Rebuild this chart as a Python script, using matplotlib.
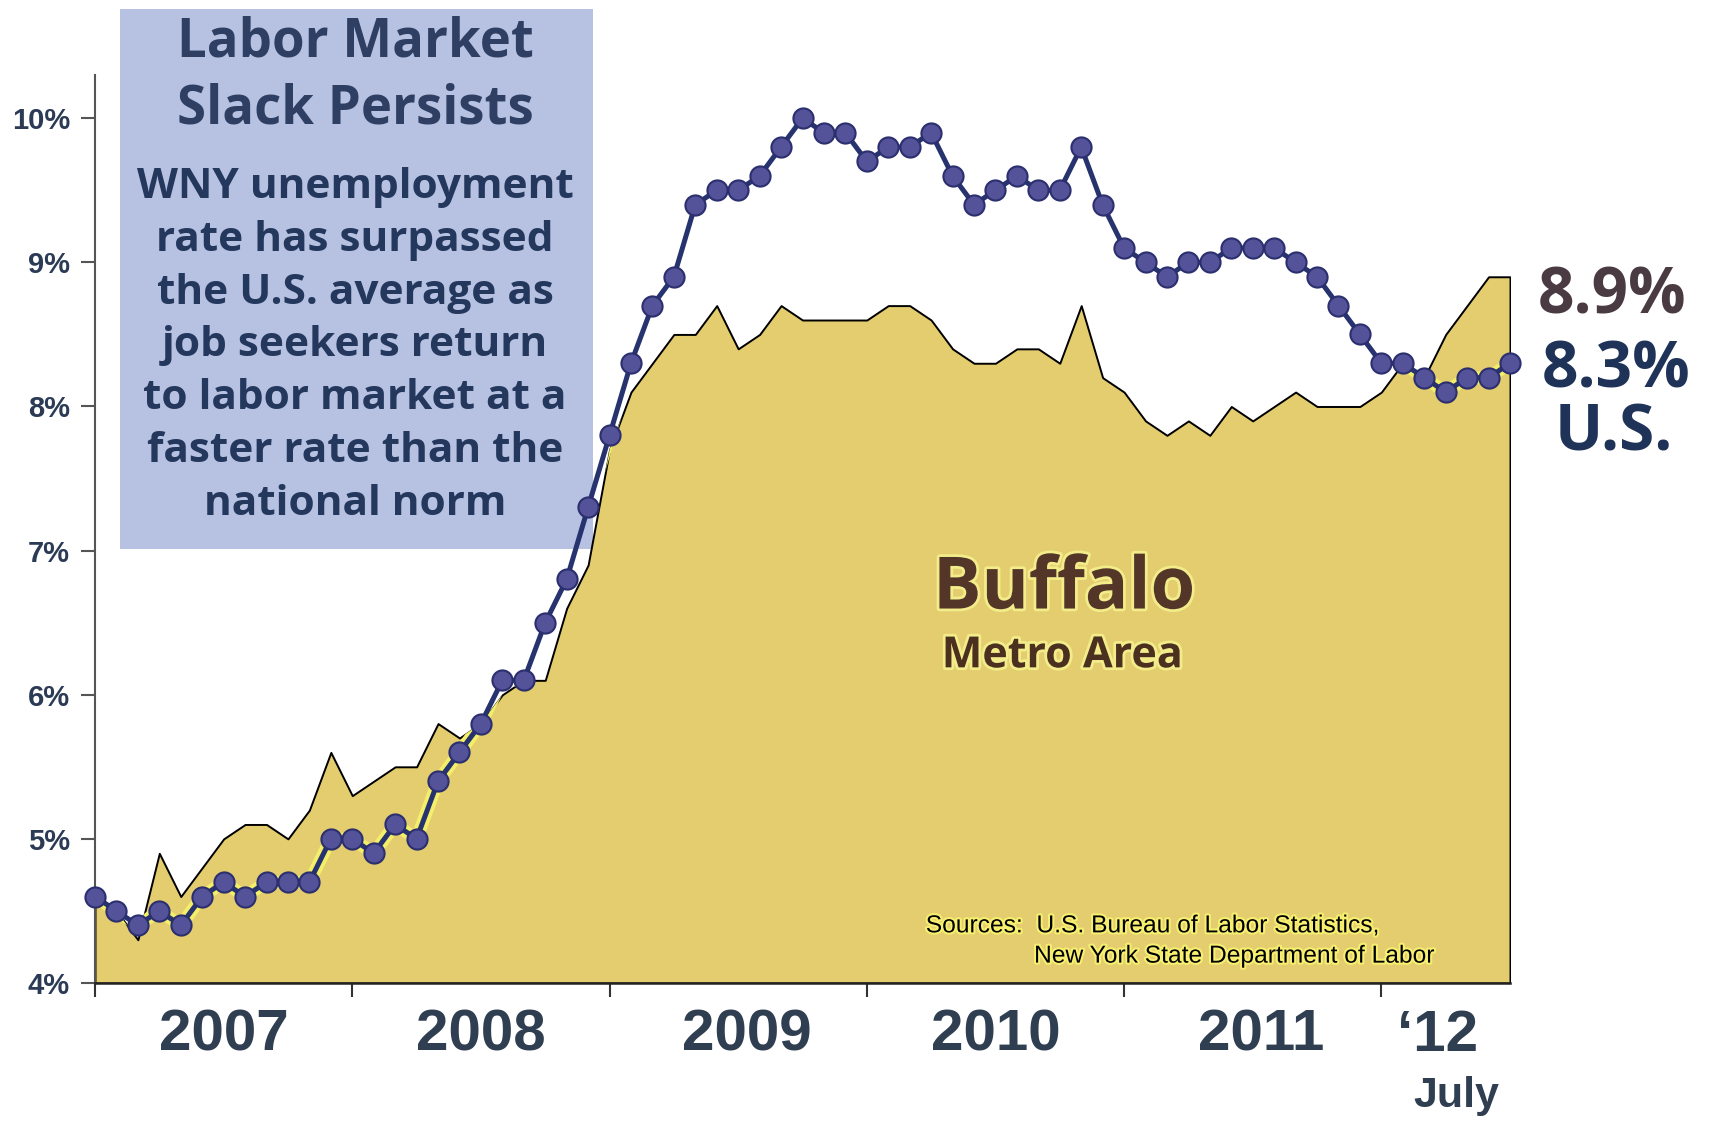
import numpy as np
import matplotlib.pyplot as plt
from matplotlib.patches import Rectangle
from matplotlib.transforms import blended_transform_factory
import matplotlib.patheffects as pe

# monthly unemployment rate, Jan 2007 .. Jul 2012 (percent)
us_rate = [4.6, 4.5, 4.4, 4.5, 4.4, 4.6, 4.7, 4.6, 4.7, 4.7, 4.7, 5.0,
           5.0, 4.9, 5.1, 5.0, 5.4, 5.6, 5.8, 6.1, 6.1, 6.5, 6.8, 7.3,
           7.8, 8.3, 8.7, 8.9, 9.4, 9.5, 9.5, 9.6, 9.8, 10.0, 9.9, 9.9,
           9.7, 9.8, 9.8, 9.9, 9.6, 9.4, 9.5, 9.6, 9.5, 9.5, 9.8, 9.4,
           9.1, 9.0, 8.9, 9.0, 9.0, 9.1, 9.1, 9.1, 9.0, 8.9, 8.7, 8.5,
           8.3, 8.3, 8.2, 8.1, 8.2, 8.2, 8.3]
buffalo_rate = [4.6, 4.5, 4.3, 4.9, 4.6, 4.8, 5.0, 5.1, 5.1, 5.0, 5.2, 5.6,
                5.3, 5.4, 5.5, 5.5, 5.8, 5.7, 5.8, 6.0, 6.1, 6.1, 6.6, 6.9,
                7.7, 8.1, 8.3, 8.5, 8.5, 8.7, 8.4, 8.5, 8.7, 8.6, 8.6, 8.6,
                8.6, 8.7, 8.7, 8.6, 8.4, 8.3, 8.3, 8.4, 8.4, 8.3, 8.7, 8.2,
                8.1, 7.9, 7.8, 7.9, 7.8, 8.0, 7.9, 8.0, 8.1, 8.0, 8.0, 8.0,
                8.1, 8.3, 8.2, 8.5, 8.7, 8.9, 8.9]
year_labels = ["2007", "2008", "2009", "2010", "2011", "\u201812"]
year_ticks = [0, 12, 24, 36, 48, 60]
y_ticks = [4, 5, 6, 7, 8, 9, 10]

months = np.arange(len(us_rate))

W, H = 1712, 1121
fig = plt.figure(figsize=(W / 100, H / 100), dpi=100)
ax = fig.add_axes([95 / W, 1 - 983 / H, 1415 / W, (983 - 75) / H])

txt_col = "#2f3e50"
navy = "#24375c"

# blue note box behind the lines
box = Rectangle((120 / W, 1 - 549 / H), 473 / W, 540 / H, transform=fig.transFigure,
                facecolor="#b7c2e2", edgecolor="none", zorder=0.5, clip_on=False)
ax.add_patch(box)

# Buffalo area
fill = ax.fill_between(months, 4, buffalo_rate, facecolor="#e4cd6e",
                       edgecolor="black", linewidth=1.4, zorder=2)

# yellow halo of the U.S. line where it sits on the Buffalo area
halo, = ax.plot(months, us_rate, color="#f4ef6a", lw=9, zorder=2.5,
                solid_capstyle="round")
halo.set_clip_path(fill.get_paths()[0], ax.transData)

ax.plot(months, us_rate, color="#26336e", lw=3.6, marker="o", markersize=14.5,
        markerfacecolor="#54539a", markeredgecolor="#2b2f6e", markeredgewidth=1.5,
        zorder=3, clip_on=False)

ax.set_xlim(0, 66)
ax.set_ylim(4, 10.3)
for s in ["top", "right"]:
    ax.spines[s].set_visible(False)
ax.spines["left"].set_color("#555555")
ax.spines["left"].set_linewidth(1.5)
ax.spines["bottom"].set_color("#222222")
ax.spines["bottom"].set_linewidth(1.8)
ax.patch.set_alpha(0)

ax.set_yticks(y_ticks)
ax.set_yticklabels([f"{v}%" for v in y_ticks], fontsize=21, fontweight="bold",
                   color="#2b3a55", family="Liberation Sans")
ax.tick_params(axis="y", length=10, width=1.5, color="#555555", pad=8)
ax.set_xticks(year_ticks)
ax.set_xticklabels([])
ax.tick_params(axis="x", length=10, width=1.5, color="#333333")

# year labels between the ticks
tr = blended_transform_factory(ax.transData, ax.transAxes)
year_x = [6, 18, 30.4, 42, 54.4, 62.6]
for x, lab in zip(year_x, year_labels):
    ax.text(x, -0.058, lab, transform=tr, ha="center", va="center",
            fontsize=42, fontweight="bold", color=txt_col, family="Liberation Sans")
ax.text(63.5, -0.124, "July", transform=tr, ha="center", va="center",
        fontsize=31, fontweight="bold", color=txt_col, family="Liberation Sans")

# note box text
fig.text(355 / W, 1 - 76 / H, "Labor Market\nSlack Persists", ha="center", va="center",
         fontsize=38, fontweight="bold", color="#2e3f63", family="Open Sans",
         linespacing=1.3, zorder=4)
body = ("WNY unemployment\nrate has surpassed\nthe U.S. average as\njob seekers return\n"
        "to labor market at a\nfaster rate than the\nnational norm")
fig.text(355 / W, 1 - 346 / H, body, ha="center", va="center", fontsize=30.5,
         fontweight="bold", color=navy, family="Open Sans", linespacing=1.38, zorder=4)

# Buffalo label
glow = [pe.withStroke(linewidth=4, foreground="#f3ec8a")]
ax.text(45.2, 6.73, "Buffalo", ha="center", va="center", fontsize=52,
        fontweight="bold", color="#533628", family="Open Sans", path_effects=glow)
ax.text(45.1, 6.27, "Metro Area", ha="center", va="center", fontsize=31,
        fontweight="bold", color="#4b2f1f", family="Open Sans", path_effects=glow)

# sources
src_glow = [pe.withStroke(linewidth=3, foreground="#f6ef70")]
ax.text(38.75, 4.40, "Sources:  U.S. Bureau of Labor Statistics,", ha="left", va="center",
        fontsize=17.7, color="black", family="Liberation Sans", path_effects=src_glow)
ax.text(43.8, 4.19, "New York State Department of Labor", ha="left", va="center",
        fontsize=17.7, color="black", family="Liberation Sans", path_effects=src_glow)

# end-of-series labels
fig.text(1612 / W, 1 - 297 / H, "8.9%", ha="center", va="center", fontsize=46,
         fontweight="bold", color="#4a3b42", family="Open Sans")
fig.text(1616 / W, 1 - 371 / H, "8.3%", ha="center", va="center", fontsize=46,
         fontweight="bold", color="#1f3358", family="Open Sans")
fig.text(1614 / W, 1 - 434 / H, "U.S.", ha="center", va="center", fontsize=46,
         fontweight="bold", color="#1f3358", family="Open Sans")

fig.savefig("out.png", dpi=100)
